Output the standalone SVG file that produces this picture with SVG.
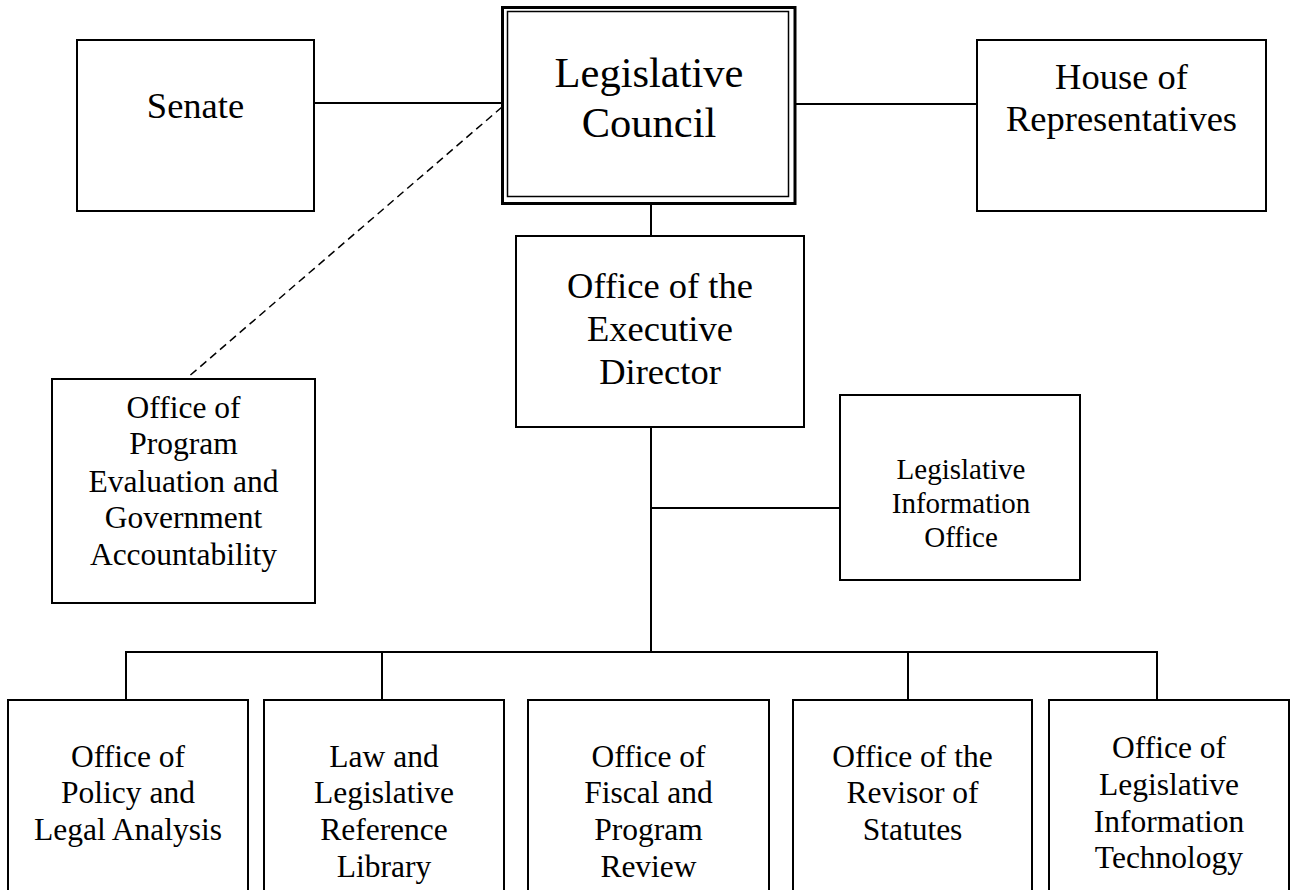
<svg xmlns="http://www.w3.org/2000/svg" width="1291" height="890" viewBox="0 0 1291 890">
<style>
.box{fill:#fff;stroke:#000;stroke-width:2}
.ln{fill:none;stroke:#000;stroke-width:2}
.dash{fill:none;stroke:#000;stroke-width:1.5;stroke-dasharray:8 5}
text{font-family:"Liberation Serif","Times New Roman",serif;fill:#000;text-anchor:middle}
.t42{font-size:42.5px}
.t36{font-size:36.5px}
.t31{font-size:31.5px}
.t29{font-size:29px}
</style>
<rect width="1291" height="890" fill="#fff"/>
<g id="connectors">
<line class="ln" x1="314" y1="103" x2="502" y2="103"/>
<line class="ln" x1="796" y1="104" x2="977" y2="104"/>
<line class="dash" x1="502" y1="107" x2="187" y2="378"/>
<line class="ln" x1="651" y1="204" x2="651" y2="236"/>
<line class="ln" x1="651" y1="427" x2="651" y2="652"/>
<line class="ln" x1="651" y1="508" x2="840" y2="508"/>
<polyline class="ln" points="126,700 126,652 1157,652 1157,700"/>
<line class="ln" x1="382" y1="652" x2="382" y2="700"/>
<line class="ln" x1="908" y1="652" x2="908" y2="700"/>
</g>
<g id="senate">
<rect class="box" x="77" y="40" width="237" height="171"/>
<text class="t36" x="195.5" y="118">Senate</text>
</g>
<g id="legislative-council">
<rect x="502.5" y="7.5" width="292.5" height="196" fill="#fff" stroke="#000" stroke-width="3"/>
<rect x="507.5" y="11.5" width="281" height="185" fill="none" stroke="#000" stroke-width="1.5"/>
<text class="t42" x="649" y="87">Legislative</text>
<text class="t42" x="649" y="137">Council</text>
</g>
<g id="house">
<rect class="box" x="977" y="40" width="289" height="171"/>
<text class="t36" x="1121.5" y="89">House of</text>
<text class="t36" x="1121.5" y="131">Representatives</text>
</g>
<g id="executive-director">
<rect class="box" x="516" y="236" width="288" height="191"/>
<text class="t36" x="660" y="298">Office of the</text>
<text class="t36" x="660" y="341">Executive</text>
<text class="t36" x="660" y="384">Director</text>
</g>
<g id="opega">
<rect class="box" x="52" y="379" width="263" height="224"/>
<text class="t31" x="183.5" y="418">Office of</text>
<text class="t31" x="183.5" y="454">Program</text>
<text class="t31" x="183.5" y="492">Evaluation and</text>
<text class="t31" x="183.5" y="528">Government</text>
<text class="t31" x="183.5" y="565">Accountability</text>
</g>
<g id="legislative-information-office">
<rect class="box" x="840" y="395" width="240" height="185"/>
<text class="t29" x="961" y="479">Legislative</text>
<text class="t29" x="961" y="513">Information</text>
<text class="t29" x="961" y="547">Office</text>
</g>
<g id="policy-legal-analysis">
<rect class="box" x="8" y="700" width="240" height="210"/>
<text class="t31" x="128" y="767">Office of</text>
<text class="t31" x="128" y="803">Policy and</text>
<text class="t31" x="128" y="840">Legal Analysis</text>
</g>
<g id="law-library">
<rect class="box" x="264" y="700" width="240" height="210"/>
<text class="t31" x="384" y="767">Law and</text>
<text class="t31" x="384" y="803">Legislative</text>
<text class="t31" x="384" y="840">Reference</text>
<text class="t31" x="384" y="877">Library</text>
</g>
<g id="fiscal-program-review">
<rect class="box" x="528" y="700" width="241" height="210"/>
<text class="t31" x="648.5" y="767">Office of</text>
<text class="t31" x="648.5" y="803">Fiscal and</text>
<text class="t31" x="648.5" y="840">Program</text>
<text class="t31" x="648.5" y="877">Review</text>
</g>
<g id="revisor-of-statutes">
<rect class="box" x="793" y="700" width="239" height="210"/>
<text class="t31" x="912.5" y="767">Office of the</text>
<text class="t31" x="912.5" y="803">Revisor of</text>
<text class="t31" x="912.5" y="840">Statutes</text>
</g>
<g id="legislative-information-technology">
<rect class="box" x="1049" y="700" width="240" height="210"/>
<text class="t31" x="1169" y="758">Office of</text>
<text class="t31" x="1169" y="795">Legislative</text>
<text class="t31" x="1169" y="832">Information</text>
<text class="t31" x="1169" y="868">Technology</text>
</g>
</svg>
